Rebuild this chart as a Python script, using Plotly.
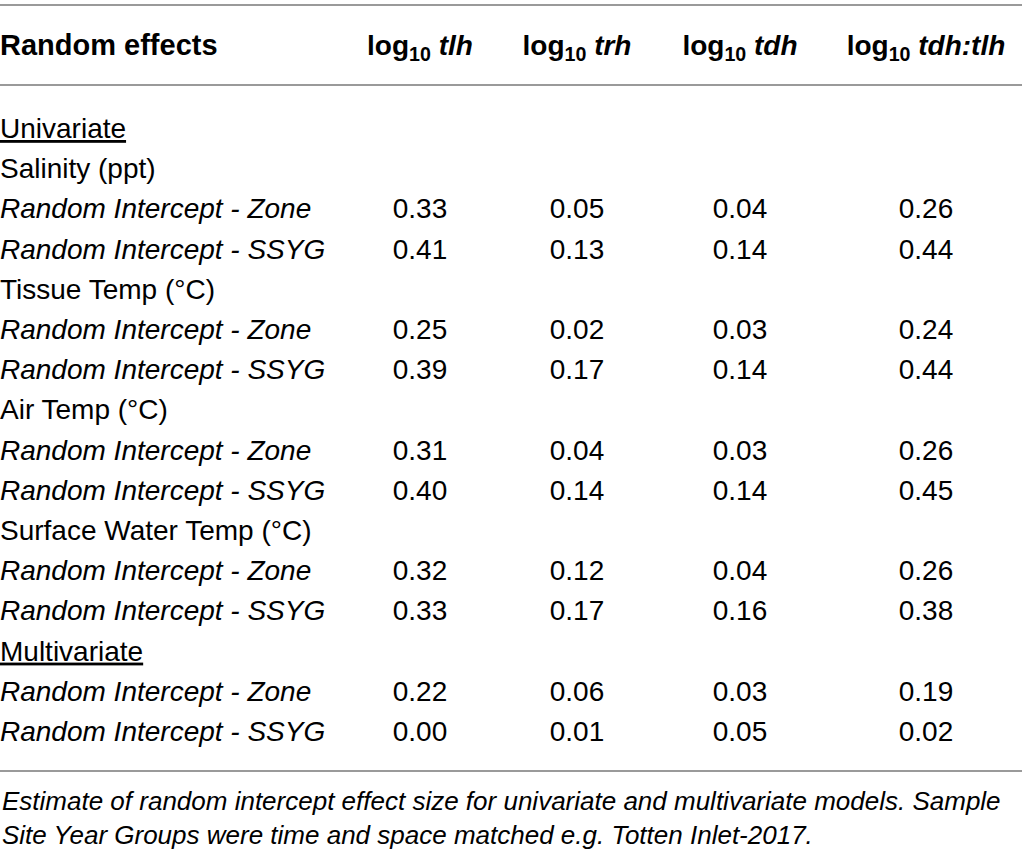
import plotly.graph_objects as go

# --- table content ---
header_first = "Random effects"
header_cols = ["tlh", "trh", "tdh", "tdh:tlh"]

sections = ["Univariate", "Multivariate"]
variables = ["Salinity (ppt)", "Tissue Temp (°C)", "Air Temp (°C)", "Surface Water Temp (°C)"]
effects = ["Random Intercept - Zone", "Random Intercept - SSYG"]

# one value per effect row, in table order (4 univariate pairs + 1 multivariate pair)
tlh = [0.33, 0.41, 0.25, 0.39, 0.31, 0.40, 0.32, 0.33, 0.22, 0.00]
trh = [0.05, 0.13, 0.02, 0.17, 0.04, 0.14, 0.12, 0.17, 0.06, 0.01]
tdh = [0.04, 0.14, 0.03, 0.14, 0.03, 0.14, 0.04, 0.16, 0.03, 0.05]
tdh_tlh = [0.26, 0.44, 0.24, 0.44, 0.26, 0.45, 0.26, 0.38, 0.19, 0.02]

caption = ("Estimate of random intercept effect size for univariate and multivariate models. Sample<br>"
           "Site Year Groups were time and space matched e.g. Totten Inlet-2017.")

# --- build rows ---
row_labels = []
effect_rows = []
row_labels.append("<u>" + sections[0] + "</u>")
for v in variables:
    row_labels.append(v)
    for e in effects:
        effect_rows.append(len(row_labels))
        row_labels.append("<i>" + e + "</i>")
row_labels.append("<u>" + sections[1] + "</u>")
for e in effects:
    effect_rows.append(len(row_labels))
    row_labels.append("<i>" + e + "</i>")

n_rows = len(row_labels)

# layout constants (pixels / row units)
W, H = 1022, 859
ROW_PX = 40.2
FIRST_ROW_PX = 131
col_x = [420, 577, 740, 926]
y_top = -FIRST_ROW_PX / ROW_PX
y_bot = y_top + H / ROW_PX

BODY = dict(family="Liberation Sans", size=28, color="black")
HEAD = dict(family="Liberation Sans", size=29, color="black")

fig = go.Figure()

# first column labels
fig.add_trace(go.Scatter(
    x=[0] * n_rows, y=list(range(n_rows)), mode="text",
    text=row_labels, textposition="middle right", textfont=BODY,
    hoverinfo="skip"))

# value columns
for cx, vals in zip(col_x, [tlh, trh, tdh, tdh_tlh]):
    fig.add_trace(go.Scatter(
        x=[cx] * len(vals), y=effect_rows, mode="text",
        text=[f"{v:.2f}" for v in vals], textposition="middle center",
        textfont=BODY, hoverinfo="skip"))

# header
header_y = y_top + 48 / ROW_PX
fig.add_trace(go.Scatter(
    x=[0], y=[header_y], mode="text", text=["<b>" + header_first + "</b>"],
    textposition="middle right", textfont=HEAD, hoverinfo="skip"))
fig.add_trace(go.Scatter(
    x=col_x, y=[header_y] * len(col_x), mode="text",
    text=["<b>log<sub>10</sub> <i>" + h + "</i></b>" for h in header_cols],
    textposition="middle center", textfont=dict(HEAD, size=28), hoverinfo="skip"))

# horizontal rules
for py in [5, 85, 771]:
    fig.add_shape(type="line", xref="paper", x0=0, x1=1,
                  yref="y", y0=y_top + py / ROW_PX, y1=y_top + py / ROW_PX,
                  line=dict(color="#9a9a9a", width=2))

# caption
fig.add_annotation(
    x=0, y=y_top + 817.5 / ROW_PX, xref="x", yref="y", text="<i>" + caption + "</i>",
    showarrow=False, xanchor="left", yanchor="middle", align="left",
    font=dict(family="Liberation Sans", size=26, color="black"))

fig.update_xaxes(range=[0, W], visible=False, fixedrange=True)
fig.update_yaxes(range=[y_bot, y_top], visible=False, fixedrange=True)
fig.update_layout(
    width=W, height=H, margin=dict(l=0, r=0, t=0, b=0),
    showlegend=False, plot_bgcolor="white", paper_bgcolor="white")

# drop the default page margin so the figure sits at the window corner
fig.write_html("out.html", config={"displayModeBar": False},
               post_script="document.body.style.margin='0px';")
